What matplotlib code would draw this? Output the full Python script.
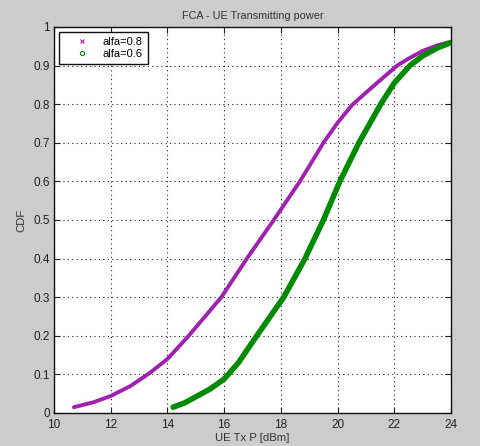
import matplotlib

matplotlib.use("Agg")

import matplotlib.pyplot as plt
from matplotlib.lines import Line2D


# ==================================================
# DATA
# ==================================================

alfa08_x = [10.7, 11.4, 12.0, 12.7, 13.4, 14.0, 14.75, 15.9, 16.8, 17.75,
            18.67, 19.03, 19.5, 20.0, 20.5, 21.0, 21.5, 22.1, 22.5, 23.0,
            23.5, 23.9]
alfa08_y = [0.015, 0.028, 0.044, 0.07, 0.105, 0.14, 0.20, 0.30, 0.40, 0.50,
            0.60, 0.643, 0.70, 0.752, 0.797, 0.83, 0.862, 0.90, 0.918, 0.938,
            0.952, 0.96]

alfa06_x = [14.2, 14.6, 15.0, 15.5, 16.0, 16.5, 17.15, 18.1, 18.85, 19.5,
            20.08, 20.75, 21.52, 22.0, 22.55, 23.0, 23.5, 24.0]
alfa06_y = [0.015, 0.026, 0.042, 0.062, 0.088, 0.13, 0.20, 0.30, 0.40, 0.50,
            0.60, 0.70, 0.80, 0.855, 0.90, 0.925, 0.945, 0.96]

x_ticks = [10, 12, 14, 16, 18, 20, 22, 24]
y_ticks = [0, 0.1, 0.2, 0.3, 0.4, 0.5, 0.6, 0.7, 0.8, 0.9, 1]
y_tick_labels = ["0", "0.1", "0.2", "0.3", "0.4", "0.5",
                 "0.6", "0.7", "0.8", "0.9", "1"]


# ==================================================
# FIGURE
# ==================================================

plt.rcParams["font.family"] = ["Liberation Sans", "DejaVu Sans"]

fig = plt.figure(figsize=(4.81, 4.46), dpi=100, facecolor="#cccccc")

ax = fig.add_axes([0.1123, 0.074, 0.8254, 0.8655])
ax.set_facecolor("white")

purple = "#a020b0"
green = "#008a00"

ax.plot(alfa08_x, alfa08_y, color=purple, linewidth=2.8,
        solid_capstyle="round", solid_joinstyle="round", zorder=3)
ax.plot(alfa06_x, alfa06_y, color=green, linewidth=4,
        solid_capstyle="round", solid_joinstyle="round", zorder=3)

ax.set_xlim(10, 24)
ax.set_ylim(0, 1)

ax.set_xticks(x_ticks)
ax.set_xticklabels([str(t) for t in x_ticks])
ax.set_yticks(y_ticks)
ax.set_yticklabels(y_tick_labels)

ax.grid(True, color="#222222", linestyle=(0, (1, 3)), linewidth=0.8)
ax.set_axisbelow(True)

ax.tick_params(axis="both", direction="in", length=4, width=0.8,
               top=True, right=True, labelsize=8.5, colors="#222222")
ax.tick_params(axis="x", pad=4)
ax.tick_params(axis="y", pad=3)

for side in ax.spines.values():
    side.set_color("#111111")
    side.set_linewidth(1.0)

ax.set_title("FCA - UE Transmitting power", fontsize=7.8,
             color="#333333", pad=6)
ax.set_xlabel("UE Tx P [dBm]", fontsize=8.2, color="#333333", labelpad=2)
ax.set_ylabel("CDF", fontsize=8.2, color="#333333", labelpad=5)

handles = [
    Line2D([], [], marker="x", linestyle="none", color=purple,
           markersize=3, markeredgewidth=0.8, label="alfa=0.8"),
    Line2D([], [], marker="o", linestyle="none", color=green,
           markersize=3, markerfacecolor="none", markeredgewidth=0.8,
           label="alfa=0.6"),
]

leg = ax.legend(handles=handles, loc="upper left", fontsize=8,
                fancybox=False, framealpha=1, edgecolor="#111111",
                handlelength=3.3, handletextpad=0.2, borderpad=0.45,
                labelspacing=0.2, borderaxespad=0,
                bbox_to_anchor=(0.0126, 0.987))
leg.get_frame().set_linewidth(1.0)

fig.savefig("out.png", dpi=100, facecolor=fig.get_facecolor())
plt.close(fig)
